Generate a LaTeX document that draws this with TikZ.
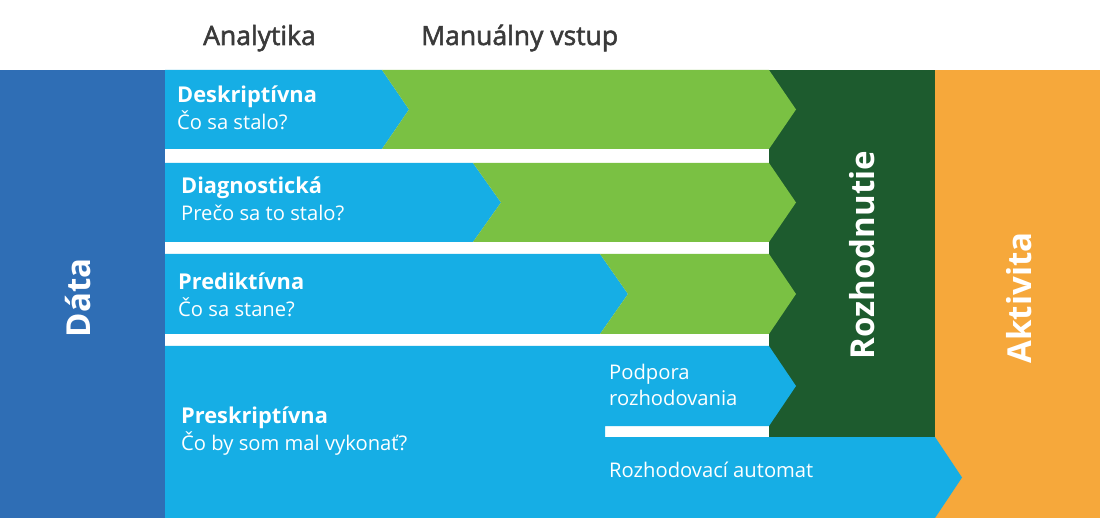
\documentclass[tikz,border=0pt]{standalone}
\usepackage{fontspec}
\setmainfont{Open Sans}
\definecolor{datablue}{HTML}{2F6EB5}
\definecolor{lightblue}{HTML}{16AEE5}
\definecolor{lgreen}{HTML}{7AC143}
\definecolor{dgreen}{HTML}{1D5B2E}
\definecolor{orangec}{HTML}{F6A83B}
\definecolor{headgray}{HTML}{3A3A3A}
\newfontfamily\headfont[FakeBold=2]{Open Sans}
\begin{document}
\begin{tikzpicture}[x=1pt,y=-1pt,
  head/.style={anchor=base west,inner sep=0pt,text=headgray,font=\headfont\fontsize{26.5}{30}\selectfont},
  title/.style={anchor=base west,inner sep=0pt,text=white,font=\fontsize{21.8}{25}\selectfont\bfseries},
  sub/.style={anchor=base west,inner sep=0pt,text=white,font=\fontsize{20.2}{24}\selectfont},
  vert/.style={rotate=90,inner sep=0pt,text=white,font=\fontsize{33}{38}\selectfont\bfseries}]
\useasboundingbox (0,0) rectangle (1100,518);
\fill[white] (0,0) rectangle (1100,518);
% columns
\fill[orangec] (935,70) rectangle (1100,518);
\fill[dgreen] (769,70) rectangle (935,437);
\fill[datablue] (0,70) rectangle (165,518);
% row 1
\fill[lightblue] (165,70) -- (382,70) -- (409,109.5) -- (382,149) -- (165,149) -- cycle;
\fill[lgreen] (382,70) -- (769,70) -- (796,109.5) -- (769,149) -- (382,149) -- (409,109.5) -- cycle;
% row 2
\fill[lightblue] (165,163) -- (473,163) -- (501,202.5) -- (473,242) -- (165,242) -- cycle;
\fill[lgreen] (473,163) -- (769,163) -- (796,202.5) -- (769,242) -- (473,242) -- (501,202.5) -- cycle;
% row 3
\fill[lightblue] (165,254) -- (600,254) -- (628,294) -- (600,334) -- (165,334) -- cycle;
\fill[lgreen] (600,254) -- (769,254) -- (796,294) -- (769,334) -- (600,334) -- (628,294) -- cycle;
% row 4
\fill[lightblue] (165,346) -- (769,346) -- (796,386) -- (769,426) -- (605,426) -- (605,437)
  -- (935,437) -- (962,477.5) -- (935,518) -- (165,518) -- cycle;
% headings
\node[head] (h1) at (203,45) {Analytika};
\node[head] (h2) at (421,45) {Manuálny vstup};
% row texts
\node[title] (t1) at (177,103) {Deskriptívna};
\node[sub] (s1) at (177,130) {Čo sa stalo?};
\node[title] (t2) at (181,194) {Diagnostická};
\node[sub] (s2) at (181,221) {Prečo sa to stalo?};
\node[title] (t3) at (178,290) {Prediktívna};
\node[sub] (s3) at (178,317) {Čo sa stane?};
\node[title] (t4) at (181,423) {Preskriptívna};
\node[sub] (s4) at (181,450) {Čo by som mal vykonať?};
\node[sub] (p1) at (609,379) {Podpora};
\node[sub] (p2) at (609,405) {rozhodovania};
\node[sub] (ra) at (609,477) {Rozhodovací automat};
% vertical labels
\node[vert] (data) at (78,298) {Dáta};
\node[vert] (roz) at (862,255) {Rozhodnutie};
\node[vert] (akt) at (1019,298) {Aktivita};
\end{tikzpicture}
\end{document}
